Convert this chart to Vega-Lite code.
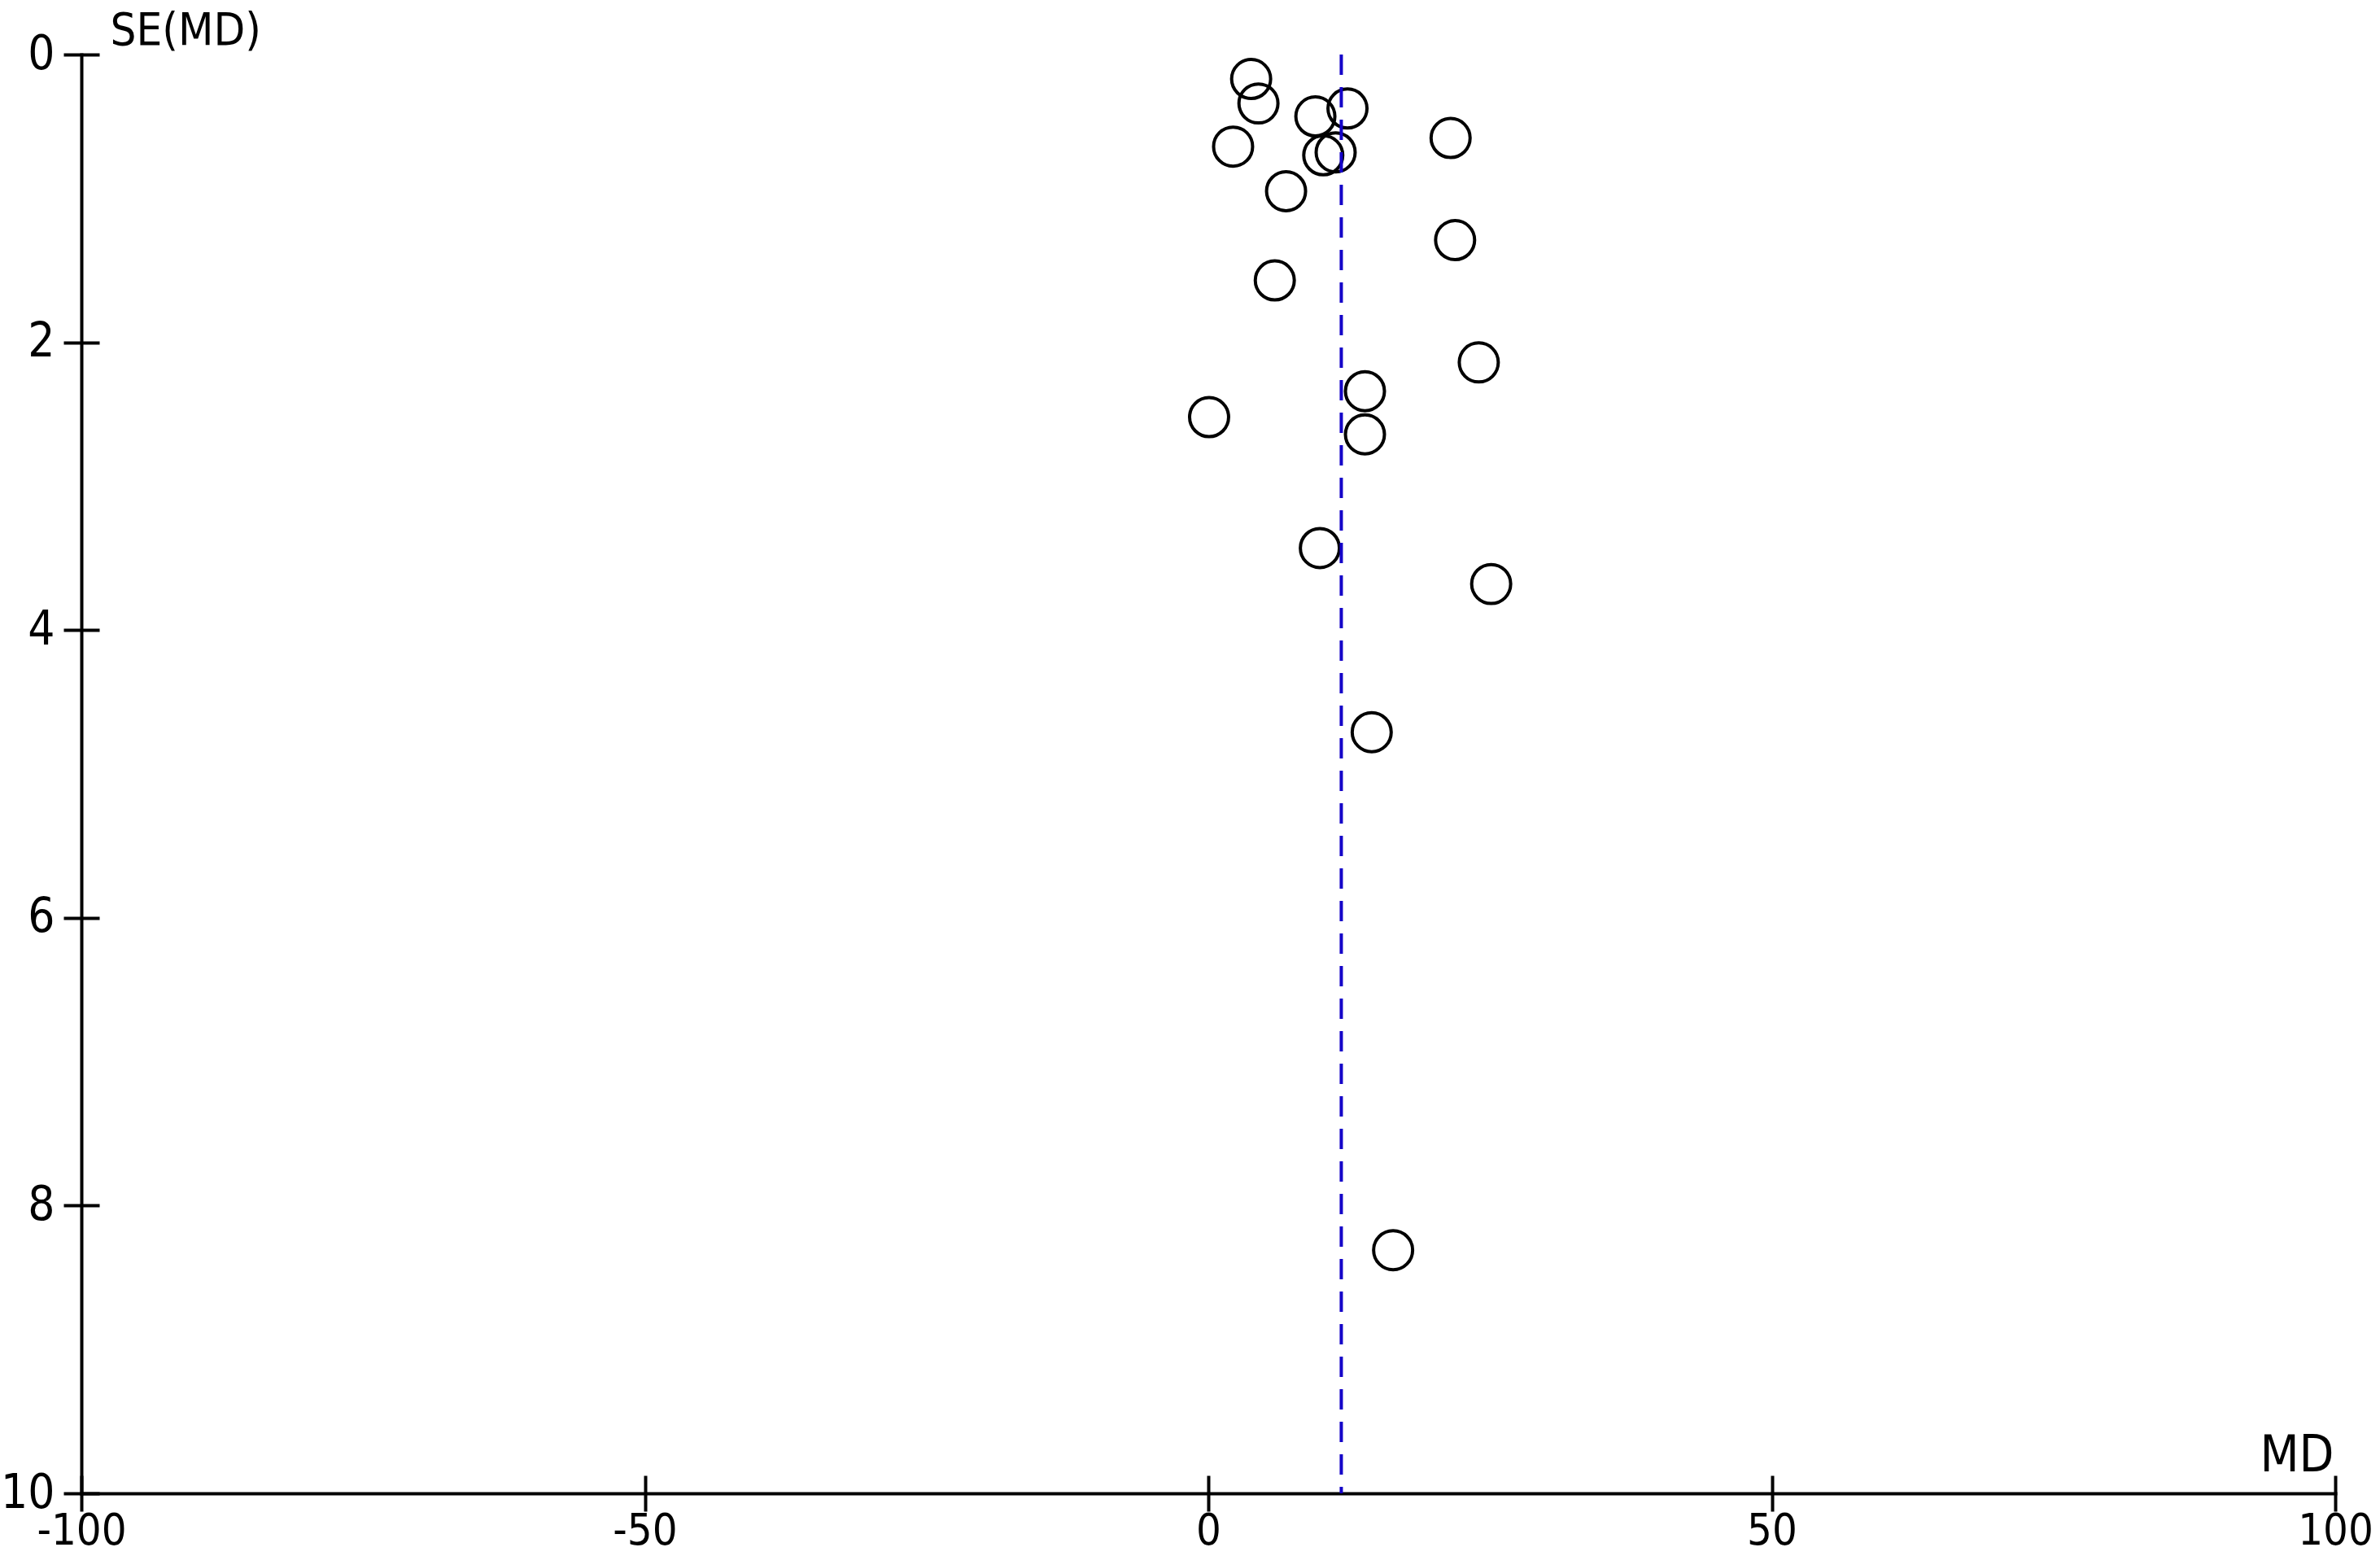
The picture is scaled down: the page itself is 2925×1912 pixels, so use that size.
{
  "$schema": "https://vega.github.io/schema/vega-lite/v6.json",
  "autosize": "none",
  "width": 2770,
  "height": 1768,
  "padding": {"left": 100, "top": 67, "right": 55, "bottom": 77},
  "background": "white",
  "config": {
    "view": {"stroke": null},
    "font": "'Liberation Sans Narrow', 'DejaVu Sans Condensed', 'Liberation Sans'",
    "axis": {
      "domainColor": "black",
      "domainWidth": 4,
      "tickColor": "black",
      "tickWidth": 4,
      "tickSize": 22,
      "grid": false,
      "labelFont": "'Liberation Sans Narrow', 'DejaVu Sans Condensed', 'Liberation Sans'",
      "labelFontSize": 62,
      "labelColor": "black",
      "titleFont": "'Liberation Sans Narrow', 'DejaVu Sans Condensed', 'Liberation Sans'",
      "titleFontSize": 62,
      "titleFontWeight": "normal",
      "titleColor": "black",
      "domainCap": "square"
    }
  },
  "resolve": {"axis": {"x": "independent", "y": "independent"}},
  "layer": [
    {
      "data": {
        "values": [
          {"MD": 3.8, "SE": 0.17},
          {"MD": 4.45, "SE": 0.34},
          {"MD": 9.5, "SE": 0.43},
          {"MD": 12.35, "SE": 0.375},
          {"MD": 21.5, "SE": 0.58},
          {"MD": 2.2, "SE": 0.64},
          {"MD": 10.2, "SE": 0.70},
          {"MD": 11.3, "SE": 0.68},
          {"MD": 6.9, "SE": 0.95},
          {"MD": 21.9, "SE": 1.29},
          {"MD": 5.9, "SE": 1.57},
          {"MD": 24.0, "SE": 2.14},
          {"MD": 13.9, "SE": 2.34},
          {"MD": 0.07, "SE": 2.52},
          {"MD": 13.9, "SE": 2.64},
          {"MD": 9.9, "SE": 3.43},
          {"MD": 25.1, "SE": 3.68},
          {"MD": 14.5, "SE": 4.71},
          {"MD": 16.4, "SE": 8.31}
        ]
      },
      "mark": {"type": "point", "shape": "circle", "filled": false, "stroke": "black", "strokeWidth": 4, "size": 2300, "opacity": 1},
      "encoding": {
        "x": {
          "field": "MD", "type": "quantitative",
          "scale": {"domain": [-100, 100], "nice": false, "zero": false},
          "axis": {
            "orient": "bottom",
            "values": [-100, -50, 0, 50, 100],
            "labelExpr": "'' + datum.value",
            "labelFontSize": 54,
            "title": "MD",
            "titleAlign": "right",
            "titleAnchor": null,
            "titleX": 2768,
            "titleY": -28,
            "titleBaseline": "alphabetic",
            "labelPadding": -3,
            "labelFlush": false,
            "labelOverlap": false
          }
        },
        "y": {
          "field": "SE", "type": "quantitative",
          "scale": {"domain": [0, 10], "reverse": true, "nice": false, "zero": false},
          "axis": {
            "orient": "left",
            "values": [0, 2, 4, 6, 8, 10],
            "labelExpr": "'' + datum.value",
            "labelFontSize": 58,
            "title": "SE(MD)",
            "titleFontSize": 56,
            "titleAngle": 0,
            "titleAlign": "left",
            "titleAnchor": null,
            "titleX": 35,
            "titleY": -13,
            "titleBaseline": "alphabetic",
            "labelPadding": 11,
            "labelBaseline": "middle",
            "labelFlush": false,
            "labelOverlap": false
          }
        }
      }
    },
    {
      "data": {"values": [{"MD": 11.8, "SE_top": 0, "SE_bottom": 10}]},
      "mark": {"type": "rule", "color": "#1400c8", "strokeWidth": 4, "strokeDash": [25, 15]},
      "encoding": {
        "x": {
          "field": "MD", "type": "quantitative",
          "axis": {"orient": "bottom", "offset": -22, "domain": false, "labels": false, "title": null, "values": [-100, -50, 0, 50, 100], "tickSize": 22}
        },
        "y": {
          "field": "SE_top", "type": "quantitative",
          "axis": {"orient": "left", "offset": -22, "domain": false, "labels": false, "title": null, "values": [0, 2, 4, 6, 8, 10], "tickSize": 22}
        },
        "y2": {"field": "SE_bottom"}
      }
    }
  ]
}
